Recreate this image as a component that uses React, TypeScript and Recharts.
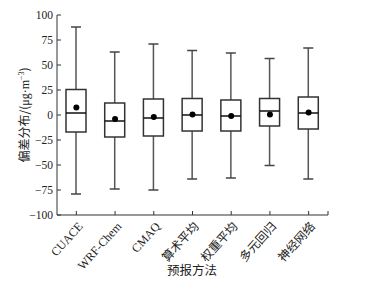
import React from 'react';
import { ComposedChart, Bar, Scatter, XAxis, YAxis } from 'recharts';

const categories = ['CUACE', 'WRF-Chem', 'CMAQ', '算术平均', '权重平均', '多元回归', '神经网络'];
const minVals = [-79, -74, -75, -64, -63, -50.5, -64];
const q1Vals = [-17, -22, -21, -16, -16, -11, -14];
const medianVals = [2, -6, -3, 0, -1, 4, 2];
const q3Vals = [25.5, 12, 16, 16.5, 15, 16.5, 18];
const maxVals = [88, 63, 71, 64.5, 62, 56.5, 67];
const meanVals = [7.5, -4, -2, 0.5, -1, 0.5, 2.5];
const yTicks = [-100, -75, -50, -25, 0, 25, 50, 75, 100];

const data = categories.map((name, i) => ({
  name,
  range: [minVals[i], maxVals[i]],
  min: minVals[i],
  q1: q1Vals[i],
  median: medianVals[i],
  q3: q3Vals[i],
  max: maxVals[i],
  mean: meanVals[i],
}));

const SERIF = '"Liberation Serif", "Times New Roman", serif';
const CJK = '"Noto Sans CJK SC", sans-serif';

const BoxShape = (props: any) => {
  const { x, y, width, height, payload } = props;
  const top = Math.min(y, y + height);
  const h = Math.abs(height);
  const { min, max, q1, q3, median } = payload;
  const py = (v: number) => top + ((max - v) / (max - min)) * h;
  const cx = x + width / 2;
  const capHalf = 5;
  return (
    <g>
      <line x1={cx} x2={cx} y1={py(max)} y2={py(q3)} stroke="#555" strokeWidth={1.5} />
      <line x1={cx} x2={cx} y1={py(q1)} y2={py(min)} stroke="#555" strokeWidth={1.5} />
      <line x1={cx - capHalf} x2={cx + capHalf} y1={py(max)} y2={py(max)} stroke="#444" strokeWidth={1.5} />
      <line x1={cx - capHalf} x2={cx + capHalf} y1={py(min)} y2={py(min)} stroke="#444" strokeWidth={1.5} />
      <rect x={x} y={py(q3)} width={width} height={py(q1) - py(q3)} fill="#fff" stroke="#333" strokeWidth={1.5} />
      <line x1={x} x2={x + width} y1={py(median)} y2={py(median)} stroke="#111" strokeWidth={1.5} />
    </g>
  );
};

const MeanDot = (props: any) => {
  const { cx, cy } = props;
  return <circle cx={cx} cy={cy} r={3} fill="#000" />;
};

const YTick = (props: any) => {
  const { x, y, payload } = props;
  return (
    <g>
      <line x1={x} x2={x + 4} y1={y} y2={y} stroke="#333" strokeWidth={1} />
      <text x={x - 4} y={y} dy="0.35em" textAnchor="end" fontSize={11.5} fontFamily={SERIF} fill="#222">
        {payload.value < 0 ? '\u2212' + Math.abs(payload.value) : payload.value}
      </text>
    </g>
  );
};

const XTick = (props: any) => {
  const { x, y, payload } = props;
  const isCjk = /[\u4e00-\u9fff]/.test(payload.value);
  const tx = x + 4;
  const ty = y + 9;
  return (
    <g>
      <line x1={x} x2={x} y1={y} y2={y - 4} stroke="#333" strokeWidth={1} />
      <text
        x={tx}
        y={ty}
        textAnchor="end"
        dy="0.35em"
        fontSize={12}
        fontFamily={isCjk ? CJK : SERIF}
        fill="#222"
        transform={`rotate(-48, ${tx}, ${ty})`}
      >
        {payload.value}
      </text>
    </g>
  );
};

export default function App() {
  return (
    <div style={{ width: 357, height: 274, position: 'relative' }}>
      <ComposedChart
        width={357}
        height={274}
        data={data}
        margin={{ top: 7, right: 37, left: 0, bottom: 0 }}
      >
        <XAxis
          dataKey="name"
          type="category"
          height={67}
          tickLine={false}
          tickSize={0}
          tickMargin={0}
          tick={<XTick />}
          interval={0}
          axisLine={{ stroke: '#333', strokeWidth: 1 }}
        />
        <YAxis
          type="number"
          domain={[-100, 100]}
          ticks={yTicks}
          width={49}
          tickLine={false}
          tickSize={0}
          tickMargin={0}
          tick={<YTick />}
          interval={0}
          axisLine={{ stroke: '#333', strokeWidth: 1 }}
        />
        <Bar dataKey="range" barSize={20} shape={<BoxShape />} isAnimationActive={false} />
        <Scatter dataKey="mean" shape={<MeanDot />} isAnimationActive={false} />
      </ComposedChart>
      <svg width={357} height={274} style={{ position: 'absolute', left: 0, top: 0, pointerEvents: 'none' }}>
        <line x1={320} x2={320} y1={207} y2={203} stroke="#333" strokeWidth={1} />
        <text x={184} y={267} textAnchor="middle" fontSize={12.5} fontFamily={CJK} fill="#222">预报方法</text>
        <text
          x={17}
          y={107}
          textAnchor="middle"
          dy="0.35em"
          fontSize={12}
          fontFamily={CJK}
          fill="#222"
          transform="rotate(-90, 17, 107)"
        >
          偏差分布/(
          <tspan fontFamily={SERIF}>μg·m</tspan>
          <tspan fontFamily={SERIF} fontSize={8} dy="-5">−3</tspan>
          <tspan dy="5">)</tspan>
        </text>
      </svg>
    </div>
  );
}
